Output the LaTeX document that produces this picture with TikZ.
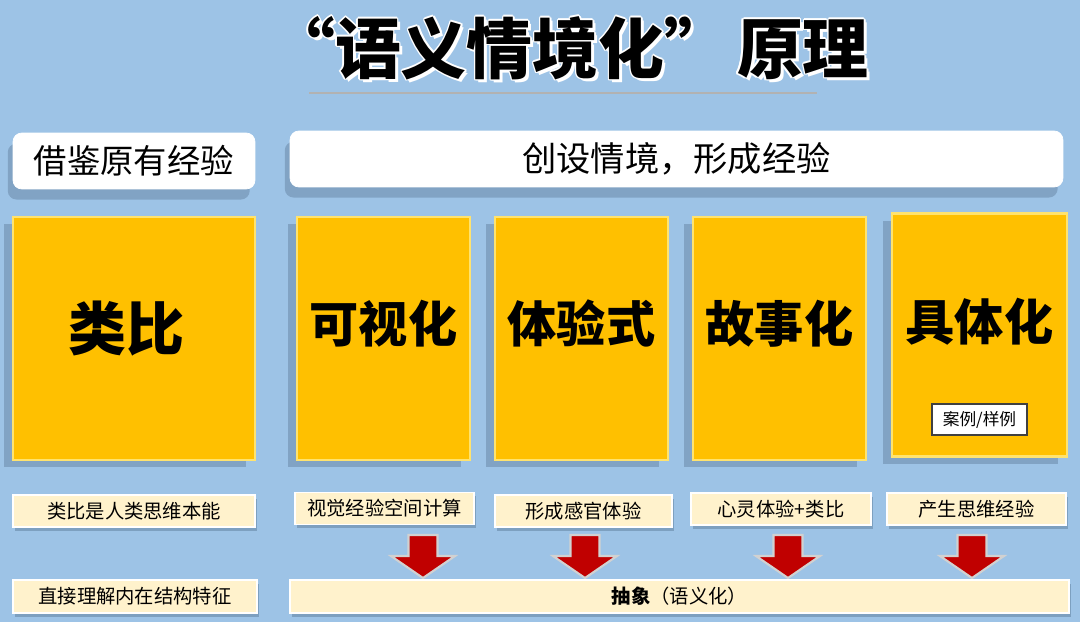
\documentclass[tikz,border=0pt]{standalone}
\usepackage{fontspec}
\setmainfont{Noto Sans CJK SC}
\usetikzlibrary{shadows}

\definecolor{bgblue}{HTML}{9DC3E6}
\definecolor{cardyellow}{HTML}{FFC000}
\definecolor{cardedge}{HTML}{FFE36E}
\definecolor{notecream}{HTML}{FFF2CC}
\definecolor{arrowred}{HTML}{C00000}
\definecolor{shadowblue}{HTML}{5F7E9C}

\tikzset{
	titletext/.style={font=\bfseries\fontsize{37.5}{40}\selectfont},
	headbox/.style={fill=white, draw=white, rounded corners=5pt, minimum height=1.12cm,
		drop shadow={shadow xshift=-3pt, shadow yshift=-6pt, fill=shadowblue, opacity=.45}},
	card/.style={fill=cardyellow, draw=cardedge, line width=1.2pt, minimum height=4.86cm,
		drop shadow={shadow xshift=-5pt, shadow yshift=-4pt, fill=shadowblue, opacity=.45}},
	cardtext/.style={font=\bfseries\fontsize{28}{30}\selectfont, text=black},
	note/.style={fill=notecream, draw=white, line width=1pt, minimum height=0.64cm,
		font=\fontsize{11}{13}\selectfont,
		drop shadow={shadow xshift=1pt, shadow yshift=-2pt, fill=shadowblue, opacity=.5}},
	redarrow/.pic={
		\draw[fill=arrowred, draw=black!18, line width=1.2pt, line join=miter]
			(-14.5,0) -- (14.5,0) -- (14.5,21) -- (32,21) -- (0,43) -- (-32,21) -- (-14.5,21) -- cycle;
	}
}

\begin{document}
\begin{tikzpicture}[x=0.02cm, y=-0.02cm, every node/.style={inner sep=0pt, outer sep=0pt}]
	\fill[bgblue] (0,0) rectangle (1080,622);
	\useasboundingbox (0,0) rectangle (1080,622);
	
	\foreach \dx/\dy in {-1.5/0, 1.5/0, 0/-1.5, 0/1.5, -1.1/-1.1, 1.1/1.1, -1.1/1.1, 1.1/-1.1, 3/3}
		\node[titletext, text=white] at (569+\dx, 48+\dy) {“语义情境化”\kern0.1em 原理};
	\node[titletext] (title) at (569,48) {“语义情境化”\kern0.1em 原理};
	\draw[black!30, line width=1.2pt] (309,93) -- (817,93);
	
	\node[headbox, minimum width=4.84cm, font=\fontsize{19}{22}\selectfont] (old) at (134,161) {借鉴原有经验};
	\node[headbox, minimum width=15.46cm, font=\fontsize{19.5}{22}\selectfont] (new) at (676.5,159) {创设情境，形成经验};
	
	\node[card, minimum width=4.84cm] (analogy) at (134,338.5) {};
	\node[cardtext, font=\bfseries\fontsize{33}{36}\selectfont] at ([xshift=-0.15cm, yshift=0.2cm]analogy.center) {类比};
	\node[card, minimum width=3.46cm] (visual) at (383.5,338.5) {};
	\node[cardtext] at ([yshift=0.3cm]visual.center) {可视化};
	\node[card, minimum width=3.46cm] (sense) at (581.5,338.5) {};
	\node[cardtext] at ([yshift=0.3cm]sense.center) {体验式};
	\node[card, minimum width=3.46cm] (story) at (779.5,338.5) {};
	\node[cardtext] at ([yshift=0.3cm]story.center) {故事化};
	\node[card, minimum width=3.5cm] (concrete) at (979.5,335) {};
	\node[cardtext] at ([yshift=0.26cm]concrete.center) {具体化};
	\node[fill=white, draw=black!75, line width=0.7pt, minimum width=1.9cm, minimum height=0.62cm,
		font=\fontsize{9.5}{11}\selectfont] (case) at (979.5,419.5) {案例/样例};
	
	\node[note, minimum width=4.84cm] (n1) at (134,511) {类比是人类思维本能};
	\node[note, minimum width=3.58cm] (n2) at (384.5,508.5) {视觉经验空间计算};
	\node[note, minimum width=3.54cm] (n3) at (583.5,511) {形成感官体验};
	\node[note, minimum width=3.6cm] (n4) at (781,509) {心灵体验+类比};
	\node[note, minimum width=3.58cm] (n5) at (976.5,509) {产生思维经验};
	
	\pic at (423,535) {redarrow};
	\pic at (585,535) {redarrow};
	\pic at (788,535) {redarrow};
	\pic at (972,535) {redarrow};
	
	\node[note, minimum width=4.88cm, minimum height=0.66cm] (b1) at (135,596.5) {直接理解内在结构特征};
	\node[note, minimum width=15.58cm, minimum height=0.66cm] (abstract) at (679.5,596.5) {\textbf{抽象}（语义化）};
\end{tikzpicture}
\end{document}
